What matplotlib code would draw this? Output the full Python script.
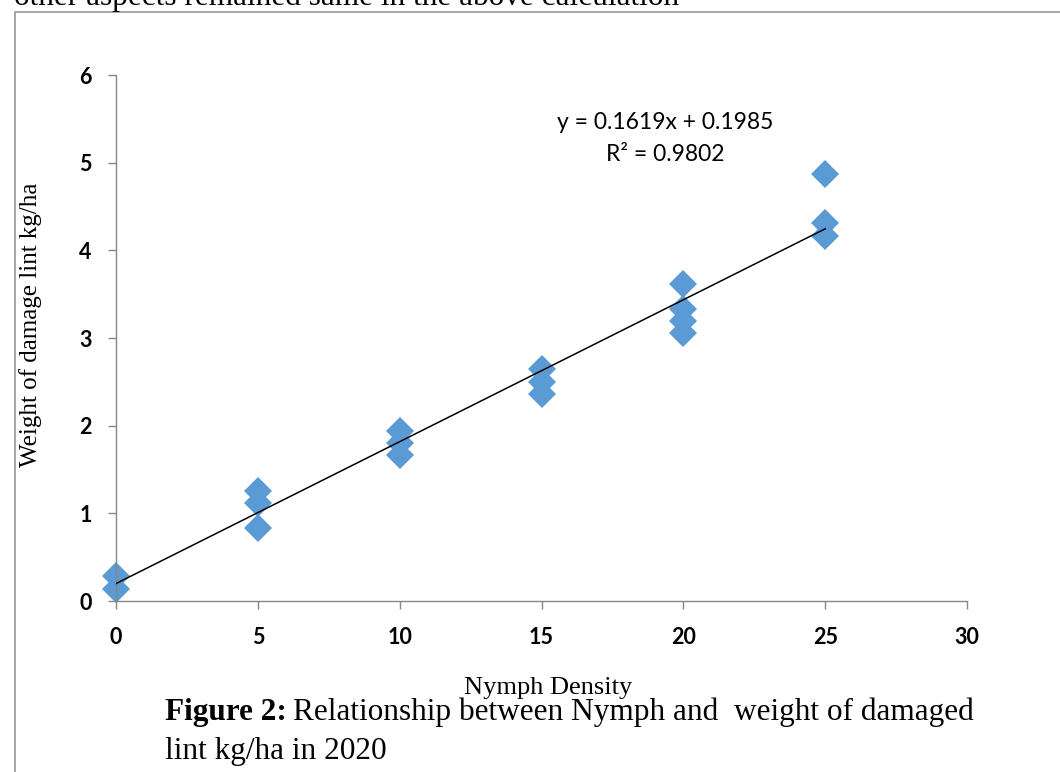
# Nymph density vs weight of damaged lint (scatter + linear trend)

import numpy as np
import matplotlib.pyplot as plt
from matplotlib.patches import Rectangle
from matplotlib.transforms import offset_copy

nymph = [0, 0, 5, 5, 5, 10, 10, 10, 15, 15, 15, 20, 20, 20, 20, 25, 25, 25]
damage = [0.28, 0.14, 1.25, 1.12, 0.83, 1.94, 1.80, 1.67, 2.65, 2.50, 2.36,
          3.62, 3.33, 3.19, 3.06, 4.87, 4.31, 4.16]

slope = 0.1619
intercept = 0.1985
eq_text = "y = 0.1619x + 0.1985"
r2_text = "R² = 0.9802"

xticks = [0, 5, 10, 15, 20, 25, 30]
yticks = [0, 1, 2, 3, 4, 5, 6]

serif = ['Liberation Serif', 'DejaVu Serif']
sans = ['Lato', 'DejaVu Sans']
axcol = '#868686'

fig = plt.figure(figsize=(10.6, 7.72), dpi=100)
ax = fig.add_axes([0.1094, 0.2215, 0.8029, 0.6813])

ax.plot(nymph, damage, linestyle='none', marker='D', markersize=14,
        color='#5B9BD5', markeredgewidth=0, zorder=2, clip_on=False)
xl = np.array([0, 25])
ax.plot(xl, slope * xl + intercept, color='black', linewidth=1.1, zorder=3)

ax.set_xlim(0, 30)
ax.set_ylim(0, 6)
ax.set_xticks(xticks)
ax.set_yticks(yticks)
for s in ['top', 'right']:
    ax.spines[s].set_visible(False)
for s in ['left', 'bottom']:
    ax.spines[s].set_color(axcol)
    ax.spines[s].set_linewidth(1.0)
ax.tick_params(direction='out', length=5.5, width=1.0, color=axcol)
ax.tick_params(axis='x', pad=13)
ax.tick_params(axis='y', pad=12)
for lab in ax.get_xticklabels() + ax.get_yticklabels():
    lab.set_family(sans)
    lab.set_fontweight('bold')
    lab.set_fontsize(15.5)
    lab.set_color('black')

ax.text(0.645, 0.909, eq_text, transform=ax.transAxes, ha='center', va='center',
        family=sans, fontsize=16.5)
ax.text(0.645, 0.848, r2_text, transform=ax.transAxes, ha='center', va='center',
        family=sans, fontsize=16.5)

fig.text(0.029, 0.579, "Weight of damage lint kg/ha", family=serif, fontsize=18,
         rotation=90, ha='center', va='center')
fig.text(0.517, 0.109, "Nymph Density", family=serif, fontsize=19,
         ha='center', va='center')

# caption: bold label followed by plain text
cap_size = 22.5
bold = fig.text(0.156, 0.077, "Figure 2:", family=serif, fontsize=cap_size,
                fontweight='bold', va='center', ha='left')
fig.canvas.draw()
bb = bold.get_window_extent()
rest_x = (bb.x1 + 6) / fig.bbox.width
fig.text(rest_x, 0.077, "Relationship between Nymph and  weight of damaged",
         family=serif, fontsize=cap_size, va='center', ha='left')
fig.text(0.156, 0.026, "lint kg/ha in 2020", family=serif, fontsize=cap_size,
         va='center', ha='left')

# cropped line of page text at the top
fig.text(0.013, 1.003, "other aspects remained same in the above calculation",
         family=serif, fontsize=cap_size, va='center', ha='left')

# frame of the figure box
fig.patches.append(Rectangle((0.0142, -0.01), 1.0, 0.995, transform=fig.transFigure,
                             fill=False, edgecolor='#a0a0a0', linewidth=1.3))

fig.savefig('out.png', dpi=100)
